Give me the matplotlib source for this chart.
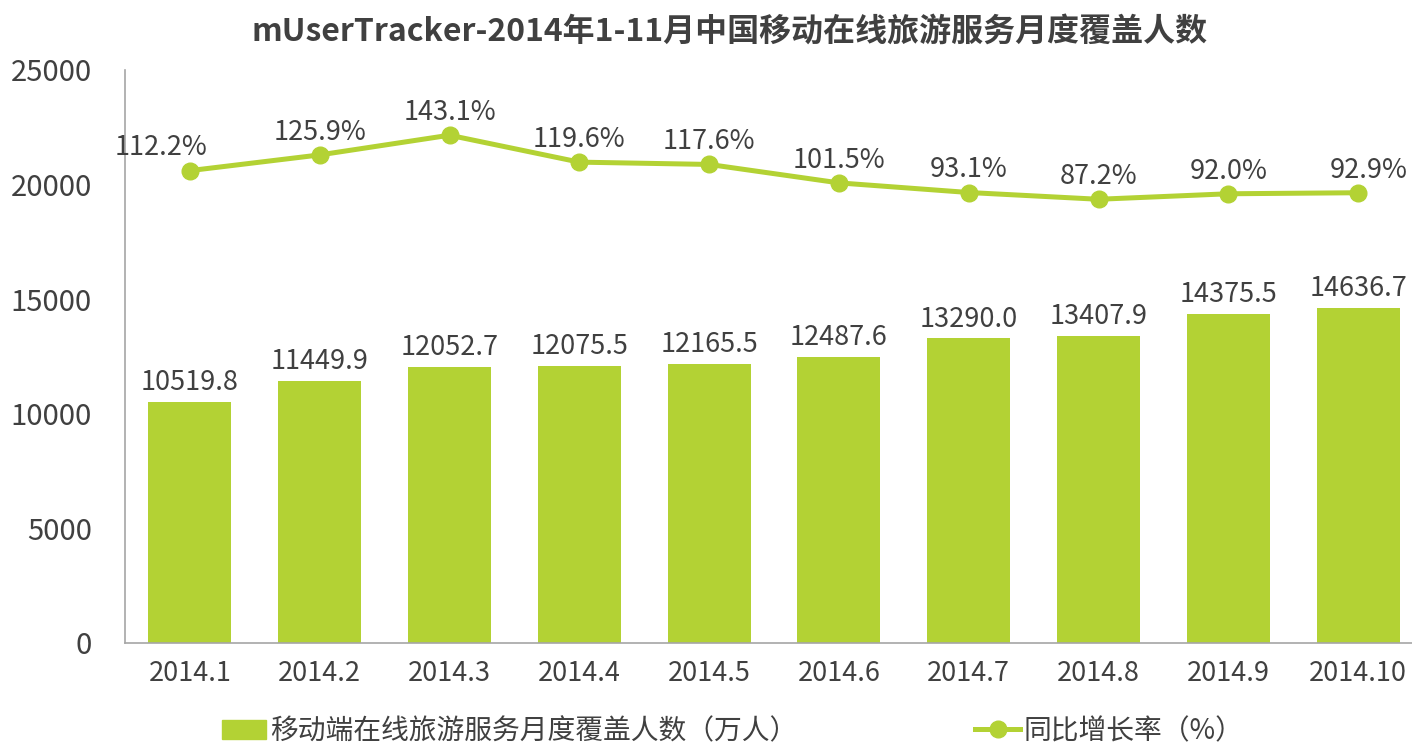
"""Mobile online travel service monthly coverage, 2014.1-2014.10."""

import matplotlib

matplotlib.use("Agg")
import matplotlib.pyplot as plt  # noqa: E402
from matplotlib.lines import Line2D  # noqa: E402
from matplotlib.patches import Patch  # noqa: E402

plt.rcParams["font.family"] = ["Noto Sans CJK SC", "DejaVu Sans"]

months = ["2014.1", "2014.2", "2014.3", "2014.4", "2014.5",
          "2014.6", "2014.7", "2014.8", "2014.9", "2014.10"]
users = [10519.8, 11449.9, 12052.7, 12075.5, 12165.5,
         12487.6, 13290.0, 13407.9, 14375.5, 14636.7]
growth = [112.2, 125.9, 143.1, 119.6, 117.6, 101.5, 93.1, 87.2, 92.0, 92.9]

GREEN = "#b3d234"
TEXT = "#404040"
SPINE = "#a6a6a6"

fig = plt.figure(figsize=(14.12, 7.46), dpi=100)
ax = fig.add_axes([125 / 1412, 103 / 746, 1287 / 1412, 573 / 746])

x = list(range(len(months)))
ax.bar(x, users, width=0.64, color=GREEN, zorder=2)
for xi, v in zip(x, users):
    ax.text(xi, v + 250, f"{v:.1f}", ha="center", va="bottom",
            fontsize=19.5, color=TEXT)

ax.set_xlim(-0.5, 9.415)
ax.set_ylim(0, 25000)
ax.set_yticks(range(0, 25001, 5000))
ax.set_xticks(x, months)
ax.tick_params(length=0, labelsize=19.5, colors=TEXT)
ax.tick_params(axis="y", labelsize=21, pad=24)
ax.tick_params(axis="x", pad=12)
for s in ("top", "right"):
    ax.spines[s].set_visible(False)
for s in ("left", "bottom"):
    ax.spines[s].set_color(SPINE)
    ax.spines[s].set_linewidth(1.2)

ax2 = ax.twinx()
ax2.set_ylim(-300, 200)
ax2.plot(x, growth, color=GREEN, lw=3.6, marker="o", markersize=12,
         zorder=3, solid_capstyle="round")
for xi, g in zip(x, growth):
    dx = -0.22 if xi == 0 else (0.08 if xi == len(x) - 1 else 0)
    ax2.text(xi + dx, g + 8, f"{g:.1f}%", ha="center", va="bottom",
             fontsize=19.5, color=TEXT)
ax2.axis("off")

fig.text(0.517, 0.958, "mUserTracker-2014年1-11月中国移动在线旅游服务月度覆盖人数",
         ha="center", va="center", fontsize=23, fontweight="bold", color=TEXT)

handles = [
    Patch(color=GREEN),
    Line2D([], [], color=GREEN, lw=3.6, marker="o", markersize=12),
]
labels = ["移动端在线旅游服务月度覆盖人数（万人）", "同比增长率（%）"]
fig.legend(handles, labels, loc="center", bbox_to_anchor=(0.519, 0.02),
           ncol=2, frameon=False, fontsize=20, columnspacing=6.4,
           handlelength=1.6, handletextpad=0.15, labelcolor=TEXT)

fig.savefig("out.png", dpi=100)
